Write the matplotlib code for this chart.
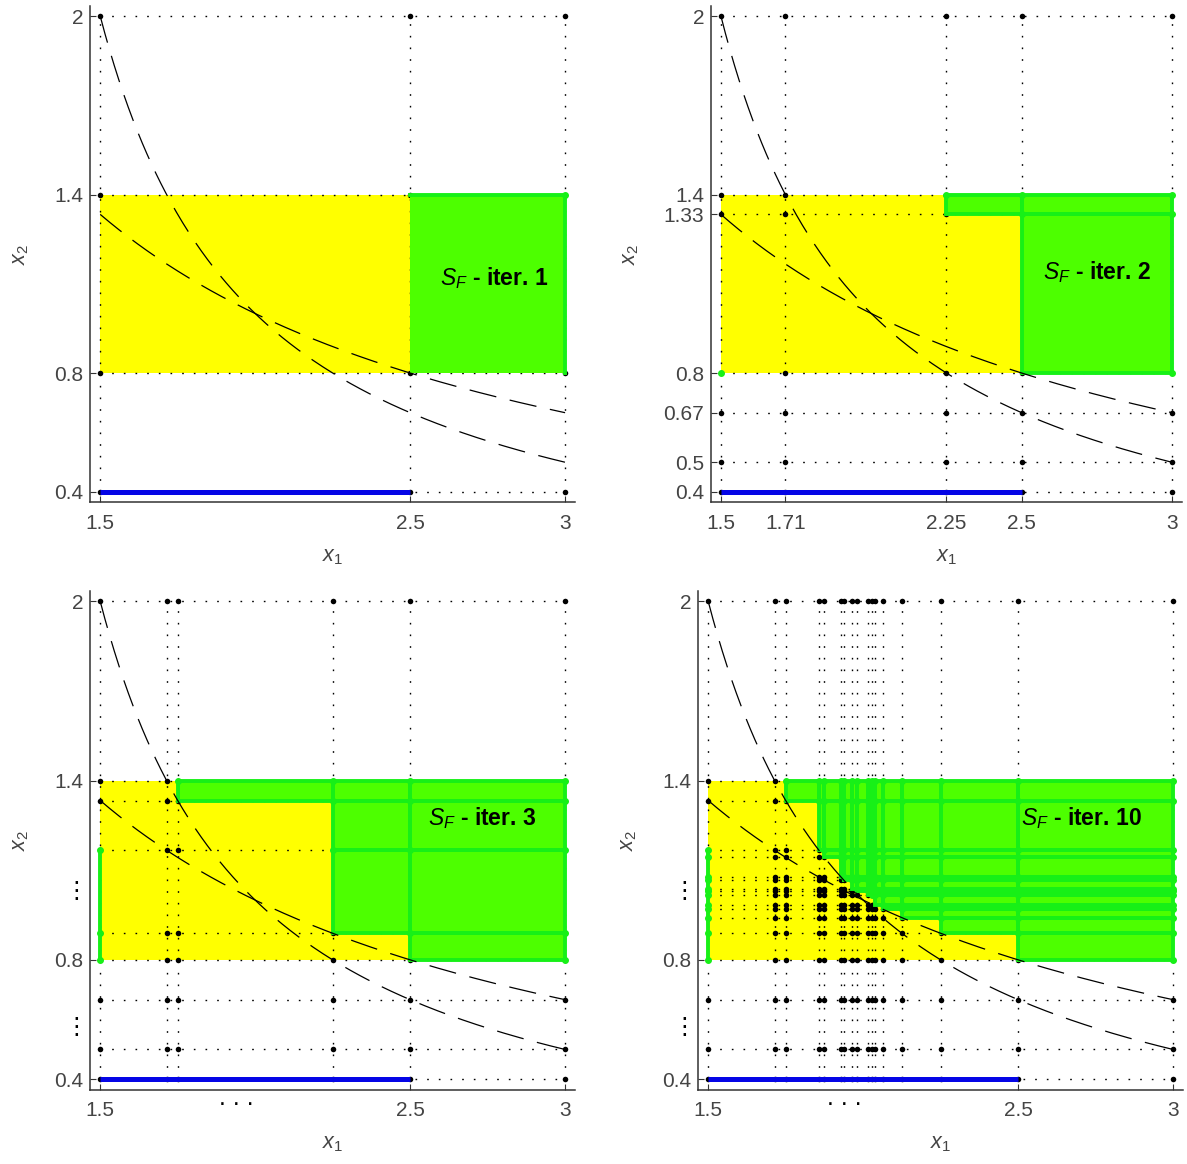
import numpy as np
import matplotlib
matplotlib.use('Agg')
import matplotlib.pyplot as plt
from matplotlib.patches import Rectangle

plt.rcParams['font.family'] = ['Liberation Sans', 'DejaVu Sans']
plt.rcParams['mathtext.fontset'] = 'custom'
plt.rcParams['mathtext.it'] = 'Liberation Sans:italic'
plt.rcParams['mathtext.rm'] = 'Liberation Sans'

# grid values (box splits) for each iteration
x_grid_1 = [1.5, 2.5, 3]
y_grid_1 = [0.4, 0.8, 1.4, 2]
x_grid_2 = [1.5, 1.714, 2.25, 2.5, 3]
y_grid_2 = [0.4, 0.5, 0.667, 0.8, 1.333, 1.4, 2]
x_grid_3 = [1.5, 1.714, 1.75, 2.25, 2.5, 3]
y_grid_3 = [0.4, 0.5, 0.667, 0.8, 0.889, 1.167, 1.333, 1.4, 2]
x_grid_4 = [1.5, 1.714, 1.75, 1.857, 1.875, 1.929, 1.937, 1.964, 1.979, 2.016,
            2.027, 2.038, 2.063, 2.125, 2.25, 2.5, 3]
y_grid_4 = [0.4, 0.5, 0.667, 0.8, 0.889, 0.941, 0.97, 0.984, 1.016, 1.032,
            1.037, 1.067, 1.077, 1.143, 1.167, 1.333, 1.4, 2]

# staircase of feasible set S_F: green for x >= step_x and y >= step_y
step_x_1, step_y_1 = [2.5], [0.8]
step_x_2, step_y_2 = [2.25, 2.5], [1.333, 0.8]
step_x_3, step_y_3 = [1.75, 2.25, 2.5], [1.333, 0.889, 0.8]
step_x_4 = [1.75, 1.857, 1.875, 1.929, 1.937, 1.964, 1.979, 2.016, 2.038, 2.063, 2.125, 2.25, 2.5]
step_y_4 = [1.333, 1.167, 1.143, 1.077, 1.067, 1.037, 1.032, 1.016, 0.984, 0.97, 0.941, 0.889, 0.8]

# green segment on the left edge x=1.5
left_seg = [None, (0.8, 0.8), (0.8, 1.167), (0.8, 1.167)]

x_ticks = [[1.5, 2.5, 3], [1.5, 1.714, 2.25, 2.5, 3], [1.5, 2.5, 3], [1.5, 2.5, 3]]
x_labels = [['1.5', '2.5', '3'], ['1.5', '1.71', '2.25', '2.5', '3'],
            ['1.5', '2.5', '3'], ['1.5', '2.5', '3']]
y_ticks = [[0.4, 0.8, 1.4, 2], [0.4, 0.5, 0.667, 0.8, 1.333, 1.4, 2],
           [0.4, 0.8, 1.4, 2], [0.4, 0.8, 1.4, 2]]
y_labels = [['0.4', '0.8', '1.4', '2'], ['0.4', '0.5', '0.67', '0.8', '1.33', '1.4', '2'],
            ['0.4', '0.8', '1.4', '2'], ['0.4', '0.8', '1.4', '2']]
iters = [1, 2, 3, 10]
text_pos = [(2.596, 1.12), (2.57, 1.14), (2.557, 1.275), (2.51, 1.275)]

dom_x, dom_y = (1.5, 3), (0.4, 2)
box_y = (0.8, 1.4)
yellow_x = (1.5, 2.5)
blue_x, blue_y = (1.5, 2.5), 0.4

YELLOW = '#ffff00'
LIME = '#4dff00'
GREEN = '#17f017'
BLUE = '#0505e6'
GRAY = '#444444'


def g1(x):
    return 2 / x


def g2(x):
    return 1 / (x - 1)


grids = [(x_grid_1, y_grid_1), (x_grid_2, y_grid_2), (x_grid_3, y_grid_3), (x_grid_4, y_grid_4)]
steps = [(step_x_1, step_y_1), (step_x_2, step_y_2), (step_x_3, step_y_3), (step_x_4, step_y_4)]

W, H = 1187, 1164
fig = plt.figure(figsize=(W / 100, H / 100), dpi=100)
# left, top, right, bottom in pixels
frames = [(90, 6, 575, 502.4), (711, 6, 1181.6, 502.4),
          (90, 591.2, 575, 1089.8), (698, 591.2, 1183, 1089.8)]
ylab_x = [-0.144, -0.172, -0.144, -0.144]

for k in range(4):
    l, t, r, b = frames[k]
    ax = fig.add_axes([l / W, 1 - b / H, (r - l) / W, (b - t) / H])
    xg, yg = grids[k]
    sx, sy = steps[k]

    ax.add_patch(Rectangle((yellow_x[0], box_y[0]), yellow_x[1] - yellow_x[0],
                           box_y[1] - box_y[0], fc=YELLOW, ec='none', zorder=1))

    for xv in xg:
        ax.plot([xv, xv], dom_y, color='k', lw=1.0, dashes=(1.2, 7.2), zorder=2)
    for yv in yg:
        ax.plot(dom_x, [yv, yv], color='k', lw=1.0, dashes=(1.2, 7.2), zorder=2)
    X, Y = np.meshgrid(xg, yg)
    ax.plot(X.ravel(), Y.ravel(), 'o', ms=4.0, mew=0, color='k', zorder=3)

    cells = []
    for i in range(len(xg) - 1):
        for j in range(len(yg) - 1):
            x0, x1, y0, y1 = xg[i], xg[i + 1], yg[j], yg[j + 1]
            if y1 > box_y[1] + 1e-9:
                continue
            if any(x0 >= a - 1e-9 and y0 >= c - 1e-9 for a, c in zip(sx, sy)):
                cells.append((x0, y0, x1, y1))
    for x0, y0, x1, y1 in cells:
        ax.add_patch(Rectangle((x0, y0), x1 - x0, y1 - y0, fc=LIME, ec='none', zorder=4))
    if k == 0:
        ax.plot([2.5, 3, 3], [1.4, 1.4, 0.8], color=GREEN, lw=2.8, zorder=5)
        gpts = [(3, 1.4)]
    else:
        for x0, y0, x1, y1 in cells:
            ax.add_patch(Rectangle((x0, y0), x1 - x0, y1 - y0, fill=False, ec=GREEN,
                                   lw=2.8, zorder=5))
        gpts = set()
        for x0, y0, x1, y1 in cells:
            gpts.update([(x0, y0), (x1, y0), (x0, y1), (x1, y1)])
        gpts -= set(zip(sx, sy))
        gpts = sorted(gpts)
    if gpts:
        gx, gy = zip(*gpts)
        ax.plot(gx, gy, 'o', ms=5.0, mew=0, color=GREEN, zorder=6)

    seg = left_seg[k]
    if seg is not None:
        ys = [v for v in yg if seg[0] - 1e-9 <= v <= seg[1] + 1e-9]
        ax.plot([dom_x[0]] * 2, seg, color=GREEN, lw=2.8, zorder=5)
        ax.plot([dom_x[0]] * len(ys), ys, 'o', ms=5.0, mew=0, color=GREEN, zorder=6)

    ax.plot(blue_x, [blue_y, blue_y], color=BLUE, lw=3.6, solid_capstyle='butt', zorder=7)

    xc = np.linspace(dom_x[0], dom_x[1], 300)
    ax.plot(xc, g1(xc), color='k', lw=0.9, dashes=(22, 11), zorder=8)
    ax.plot(xc, g2(xc), color='k', lw=0.9, dashes=(22, 11), zorder=8)

    ax.text(text_pos[k][0], text_pos[k][1], r'$S_F$ - iter. %d' % iters[k],
            fontsize=16.5, fontweight='bold', ha='left', va='center', color='k', zorder=9)

    ax.set_xlim(1.467, 3.032)
    ax.set_ylim(0.365, 2.034)
    for s in ['top', 'right']:
        ax.spines[s].set_visible(False)
    for s in ['left', 'bottom']:
        ax.spines[s].set_color('#333333')
        ax.spines[s].set_linewidth(1.1)
    ax.set_xticks(x_ticks[k])
    ax.set_xticklabels(x_labels[k])
    ax.set_yticks(y_ticks[k])
    ax.set_yticklabels(y_labels[k])
    ax.tick_params(direction='in', length=4, width=0.8, colors='#333333',
                   labelcolor=GRAY, labelsize=15)
    ax.tick_params(axis='x', pad=8)
    ax.tick_params(axis='y', pad=5)

    ax.set_xlabel(r'$x_{\mathit{1}}$', fontsize=15.5, color=GRAY)
    ax.xaxis.set_label_coords(0.5, -0.108)
    ax.xaxis.label.set_va('center')
    ax.set_ylabel(r'$x_{\mathit{2}}$', fontsize=15.5, color=GRAY)
    ax.yaxis.set_label_coords(ylab_x[k], 0.5)
    ax.yaxis.label.set_va('center')

    if k >= 2:
        ax.text(1.938, -0.031, '. . .', transform=ax.get_xaxis_transform(),
                fontsize=18, ha='center', va='baseline', color='k')
        for yv in [1.03, 0.575]:
            ax.text(-0.028, yv, '\u22ee', transform=ax.get_yaxis_transform(),
                    fontsize=17, ha='center', va='center', color='k',
                    family=['DejaVu Sans'])

fig.savefig('out.png', dpi=100)
